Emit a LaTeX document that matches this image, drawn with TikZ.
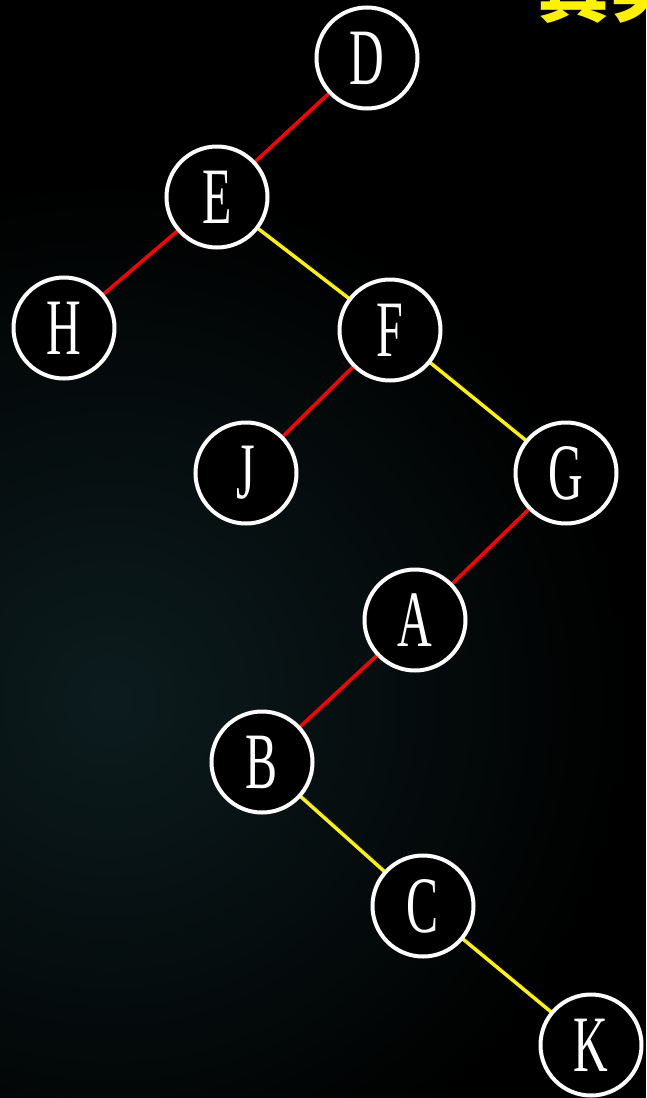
\documentclass[tikz,border=0pt]{standalone}
\usepackage{fontspec}
\setmainfont{Liberation Serif}
\newfontfamily\cjk{Noto Sans CJK SC}
\begin{document}
\begin{tikzpicture}[x=1pt,y=-1pt,
  tn/.style={circle,draw=white,fill=black,line width=4pt,minimum size=101pt,inner sep=0pt,text=white,
    font=\fontsize{80}{80}\selectfont},
  redl/.style={draw=red,line width=3.5pt},
  yell/.style={draw=yellow,line width=3.5pt}]
\useasboundingbox (0,0) rectangle (646,1098);
\clip (0,0) rectangle (646,1098);
\fill[black] (0,0) rectangle (646,1098);
\shade[inner color={rgb,255:red,12;green,28;blue,30},outer color=black] (110,700) circle (520);
\node[text=yellow,anchor=south west,font=\cjk\bfseries\fontsize{72}{72}\selectfont,inner sep=0pt] (t) at (537,24) {真实};
\coordinate (pD) at (367,58);
\coordinate (pE) at (217,197);
\coordinate (pH) at (64,328);
\coordinate (pF) at (390,330);
\coordinate (pJ) at (246,473);
\coordinate (pG) at (566,473);
\coordinate (pA) at (415,620);
\coordinate (pB) at (262,762);
\coordinate (pC) at (423,906);
\coordinate (pK) at (591,1045);
\draw[redl] (pD) -- (pE);
\draw[redl] (pE) -- (pH);
\draw[yell] (pE) -- (pF);
\draw[redl] (pF) -- (pJ);
\draw[yell] (pF) -- (pG);
\draw[redl] (pG) -- (pA);
\draw[redl] (pA) -- (pB);
\draw[yell] (pB) -- (pC);
\draw[yell] (pC) -- (pK);
\foreach \n in {D,E,H,F,J,G,A,B,C,K}{
  \node[tn] (\n) at (p\n) {\scalebox{0.6}[1]{\n}};
}
\end{tikzpicture}
\end{document}
